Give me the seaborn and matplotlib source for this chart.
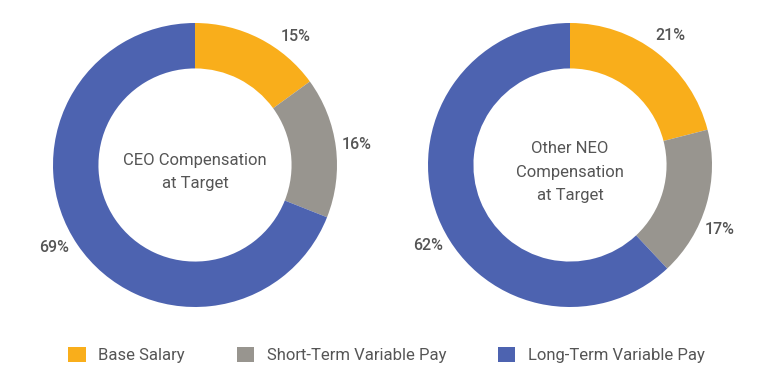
import matplotlib
matplotlib.use("Agg")
import numpy as np
import matplotlib.pyplot as plt
from matplotlib.patches import Patch
import seaborn as sns

# data
categories = ["Base Salary", "Short-Term Variable Pay", "Long-Term Variable Pay"]
ceo_values = [15, 16, 69]
neo_values = [21, 17, 62]
chart_titles = ["CEO Compensation\nat Target", "Other NEO\nCompensation\nat Target"]
colors = ["#F9AE1B", "#98958F", "#4D63B0"]

# small angle nudges (degrees) for the percent labels, as in the original
label_shift = [[-11, 0, -4], [0, -7, 8]]

sns.set_theme(style="white")
plt.rcParams["font.family"] = ["Roboto", "DejaVu Sans"]
text_color = "#555555"

fig = plt.figure(figsize=(7.73, 3.89), dpi=100)
W, H = 773, 389
R = 142
centers = [(195, 165), (570, 165)]

for i, ((cx, cy), vals, title) in enumerate(zip(centers, [ceo_values, neo_values], chart_titles)):
    ax = fig.add_axes([(cx - R) / W, (H - cy - R) / H, 2 * R / W, 2 * R / H])
    wedges, _ = ax.pie(
        vals,
        colors=colors,
        startangle=90,
        counterclock=False,
        wedgeprops=dict(width=0.32, edgecolor="none"),
    )
    # percent labels outside the ring
    for w, v, s in zip(wedges, vals, label_shift[i]):
        ang = np.deg2rad((w.theta1 + w.theta2) / 2 + s)
        ax.text(1.15 * np.cos(ang), 1.15 * np.sin(ang), f"{v}%",
                ha="center", va="center", fontsize=11.5, fontweight="medium",
                color=text_color)
    ax.text(0, -0.05, title, ha="center", va="center", fontsize=12,
            color=text_color, linespacing=1.7)
    ax.set_xlim(-1, 1)
    ax.set_ylim(-1, 1)
    ax.set_aspect("equal")
    ax.axis("off")

handles = [Patch(facecolor=c, edgecolor="none") for c in colors]
fig.legend(handles, categories, loc="center", bbox_to_anchor=(0.5, 0.088),
           ncol=3, frameon=False, fontsize=12, labelcolor=text_color,
           handlelength=1.05, handleheight=1.05, handletextpad=0.75,
           columnspacing=3.1)

fig.savefig("out.png", dpi=100, facecolor="white")
